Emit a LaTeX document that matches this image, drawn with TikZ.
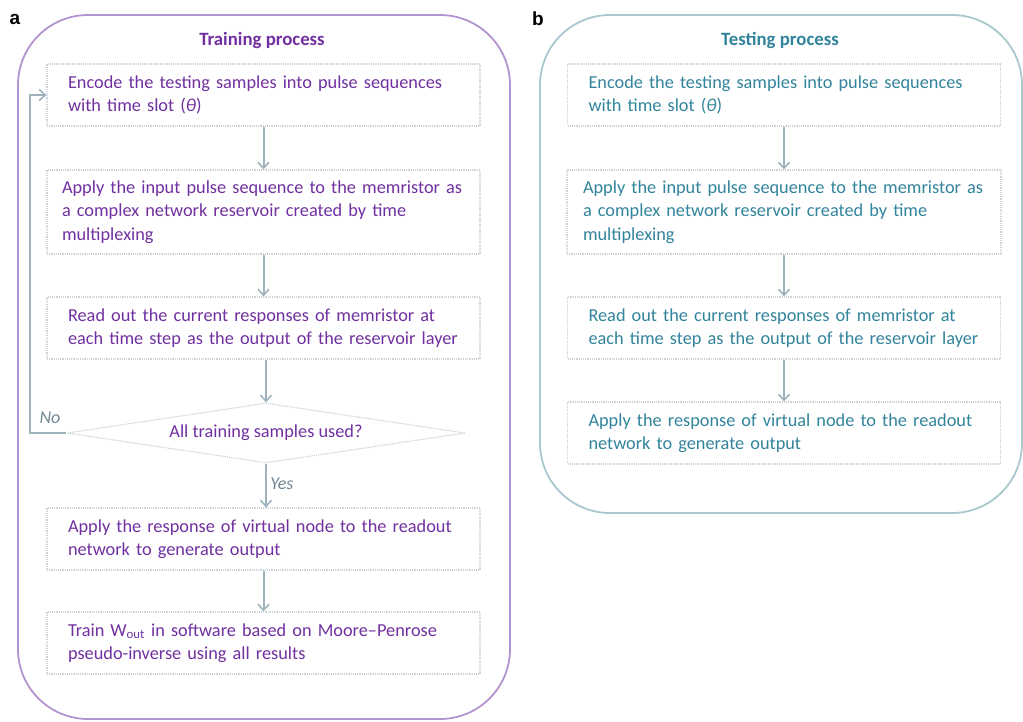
\documentclass[tikz,border=0pt]{standalone}
\usepackage{fontspec}
\setmainfont{Carlito}
\newfontfamily\panelfont{Liberation Sans}
\usetikzlibrary{arrows.meta, shapes.geometric}

\definecolor{trainpurple}{HTML}{7030A0}
\definecolor{trainframe}{HTML}{B294D0}
\definecolor{testteal}{HTML}{31849B}
\definecolor{testframe}{HTML}{A9C8CE}
\definecolor{flowgrey}{HTML}{9FB3BD}
\definecolor{boxgrey}{HTML}{CDD4D9}
\definecolor{labelgrey}{HTML}{6F8793}

\begin{document}
\begin{tikzpicture}[x=1pt, y=-1pt,
    every node/.style={font=\fontsize{18.3}{23.5}\selectfont},
    stepbox/.style={draw=boxgrey, densely dotted, line width=1.2pt, rectangle, align=left,
      inner xsep=21pt, text width=391pt, minimum height=62pt},
    choice/.style={draw=boxgrey, densely dotted, line width=1.2pt, diamond, aspect=6.6,
      minimum width=398pt, minimum height=60pt, inner sep=0pt},
    flow/.style={draw=flowgrey, line width=2pt, -{Straight Barb[length=6pt, width=11pt, line width=1.6pt]}},
    frame/.style={line width=1.8pt, rounded corners=70pt},
    answer/.style={text=labelgrey, font=\fontsize{18}{20}\selectfont\itshape},
    heading/.style={font=\fontsize{18.8}{20}\selectfont\bfseries}
  ]
  \useasboundingbox (0,0) rectangle (1023,721);

  % panel frames
  \draw[frame, draw=trainframe] (18,15) rectangle (510,719);
  \draw[frame, draw=testframe] (540,15) rectangle (1022,513);
  \node[font=\panelfont\bfseries\fontsize{19}{20}\selectfont] (lbla) at (15,19) {a};
  \node[font=\panelfont\bfseries\fontsize{19}{20}\selectfont] (lblb) at (538,19) {b};

  % a: training
  \node[heading, text=trainpurple] (ttl) at (262,40) {Training process};
  \node[stepbox, text=trainpurple] (enc) at (263.5,95)
    {Encode the testing samples into pulse sequences\\with time slot (\textit{θ})};
  \node[stepbox, text=trainpurple, inner xsep=15pt, text width=403pt, minimum height=84pt] (inp) at (263.5,212)
    {Apply the input pulse sequence to the memristor as\\a complex network reservoir created by time\\multiplexing};
  \node[stepbox, text=trainpurple] (rd) at (263.5,328)
    {Read out the current responses of memristor at\\each time step as the output of the reservoir layer};
  \node[choice, text=trainpurple] (dec) at (266,433) {All training samples used?};
  \node[stepbox, text=trainpurple] (app) at (263.5,539)
    {Apply the response of virtual node to the readout\\network to generate output};
  \node[stepbox, text=trainpurple] (trn) at (263.5,643)
    {Train W\textsubscript{out} in software based on Moore–Penrose\\pseudo-inverse using all results};
  \coordinate (back) at (30,433);

  \draw[flow] (enc) -- (inp);
  \draw[flow] (inp) -- (rd);
  \draw[flow] (rd.south -| dec.north) -- (dec);
  \draw[flow] (dec.south) -- node[answer, right, pos=0.45] {Yes} (app.north -| dec.south);
  \draw[flow] (app) -- (trn);
  \draw[flow] (dec.west) -- (back) |- (enc.west);
  \node[answer] (no) at (50,418) {No};

  % b: testing
  \node[heading, text=testteal] (tst) at (780,40) {Testing process};
  \node[stepbox, text=testteal] (tenc) at (784,95)
    {Encode the testing samples into pulse sequences\\with time slot (\textit{θ})};
  \node[stepbox, text=testteal, inner xsep=16pt, text width=402pt, minimum height=84pt] (tinp) at (784,212)
    {Apply the input pulse sequence to the memristor as\\a complex network reservoir created by time\\multiplexing};
  \node[stepbox, text=testteal] (trd) at (784,328)
    {Read out the current responses of memristor at\\each time step as the output of the reservoir layer};
  \node[stepbox, text=testteal] (tapp) at (784,433)
    {Apply the response of virtual node to the readout\\network to generate output};

  \draw[flow] (tenc) -- (tinp);
  \draw[flow] (tinp) -- (trd);
  \draw[flow] (trd) -- (tapp);
\end{tikzpicture}
\end{document}
